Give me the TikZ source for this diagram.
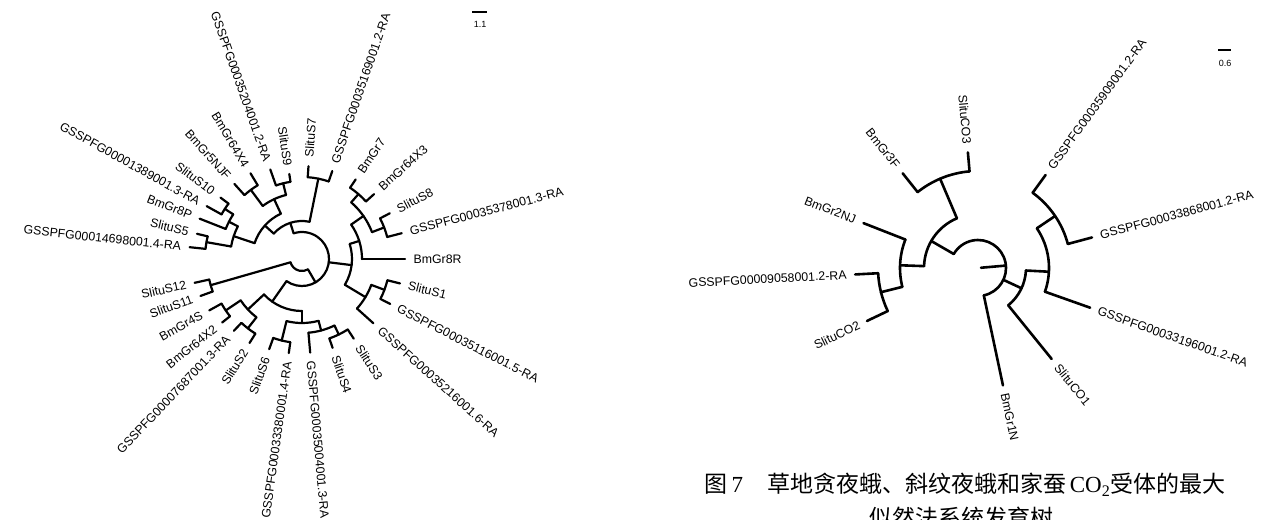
\documentclass[tikz,border=0pt]{standalone}
\usepackage{fontspec}
\setmainfont{Liberation Serif}
\newfontfamily\labfont{Liberation Sans}
\newfontfamily\cjkfont{Noto Sans CJK SC}
\usetikzlibrary{calc}
\def\labgap{8}
\newcommand{\brstem}[4]{\draw[br,shift={(#1)}] (#2:#3pt) -- (#2:#4pt);}
\newcommand{\brarc}[4]{\draw[br,shift={(#1)}] (#2:#4pt) arc[start angle=#2, end angle=#3, radius=#4pt];}
\newcommand{\lfR}[6]{\draw[br,shift={(#1)}] (#3:#4pt) -- (#3:#5pt);
  \pgfmathsetmacro{\myr}{#5+\labgap}
  \node[lab,rotate=#3,anchor=west] (#2) at ($(#1)+(#3:\myr pt)$) {#6};}
\newcommand{\lfL}[6]{\draw[br,shift={(#1)}] (#3:#4pt) -- (#3:#5pt);
  \pgfmathsetmacro{\myr}{#5+\labgap}\pgfmathsetmacro{\myrot}{#3-180}
  \node[lab,rotate=\myrot,anchor=east] (#2) at ($(#1)+(#3:\myr pt)$) {#6};}
\begin{document}
\begin{tikzpicture}[
  lab/.style={font=\labfont\fontsize{12.3}{13}\selectfont, inner sep=0.5pt},
  scl/.style={font=\labfont\fontsize{9}{10}\selectfont, inner sep=1pt}
]
\useasboundingbox (0,0) rectangle (1273pt,-519pt);
\clip (0,0) rectangle (1273pt,-519pt);
\coordinate (LC) at (302pt,-259pt);
\coordinate (RC) at (978pt,-268pt);

\begin{scope}[br/.style={line width=2.2pt,line cap=round,line join=round}]
\brarc{LC}{-125}{108}{27}
\brarc{LC}{196}{300}{12}
\brstem{LC}{300}{12}{27}
% right clade
\brstem{LC}{-7}{27}{50}
\brarc{LC}{-31}{17.5}{50}
\brstem{LC}{17.5}{50}{60}
\brarc{LC}{0}{35}{60}
\lfR{LC}{BmGrEightR}{0}{60}{103}{BmGr8R}
\brstem{LC}{35}{60}{75}
\brarc{LC}{21}{49}{75}
\brstem{LC}{49}{75}{86}
\brarc{LC}{42}{56}{86}
\lfR{LC}{BmGrSeven}{56}{86}{96}{BmGr7}
\lfR{LC}{BmGrSixFourXThree}{42}{86}{97}{BmGr64X3}
\brstem{LC}{21}{75}{88}
\brarc{LC}{14.5}{27.5}{88}
\lfR{LC}{SlituSEight}{27.5}{88}{99}{SlituS8}
\lfR{LC}{GssA}{14.5}{88}{103}{GSSPFG00035378001.3-RA}
\brstem{LC}{-31}{50}{74}
\brarc{LC}{-42}{-20.5}{74}
\lfR{LC}{GssB}{-42}{74}{96}{GSSPFG00035216001.6-RA}
\brstem{LC}{-20.5}{74}{88}
\brarc{LC}{-27}{-14}{88}
\lfR{LC}{GssC}{-27}{88}{99}{GSSPFG00035116001.5-RA}
\lfR{LC}{SlituSOne}{-14}{88}{101}{SlituS1}
% top
\brstem{LC}{108}{27}{38}
\brarc{LC}{78.5}{138}{38}
\brstem{LC}{78.5}{38}{82}
\brarc{LC}{71}{86}{82}
\lfR{LC}{SlituSSeven}{86}{82}{93}{SlituS7}
\lfR{LC}{GssD}{71}{82}{93}{GSSPFG00035169001.2-RA}
\brstem{LC}{138}{38}{50}
\brarc{LC}{115}{161.5}{50}
\brstem{LC}{115}{50}{66}
\brarc{LC}{104}{126.5}{66}
\brstem{LC}{104}{66}{78}
\brarc{LC}{98.5}{109.5}{78}
\lfL{LC}{SlituSNine}{98.5}{78}{86}{SlituS9}
\lfL{LC}{GssE}{109.5}{78}{95}{GSSPFG00035204001.2-RA}
\brstem{LC}{126.5}{66}{86}
\brarc{LC}{121}{132}{86}
\lfL{LC}{BmGrSixFourXFour}{121}{86}{100}{BmGr64X4}
\lfL{LC}{BmGrFiveNJF}{132}{86}{101}{BmGr5NJF}
\brstem{LC}{161.5}{50}{72}
\brarc{LC}{153}{170}{72}
\brstem{LC}{153}{72}{82}
\brarc{LC}{147}{158.5}{82}
\lfL{LC}{BmGrEightP}{158.5}{82}{110}{BmGr8P}
\brstem{LC}{147}{82}{92}
\brarc{LC}{143}{151}{92}
\lfL{LC}{SlituSTen}{143}{92}{102}{SlituS10}
\lfL{LC}{GssF}{151}{92}{109}{GSSPFG00001389001.3-RA}
\brstem{LC}{170}{72}{97}
\brarc{LC}{166.5}{174}{97}
\lfL{LC}{SlituSFive}{166.5}{97}{108}{SlituS5}
\lfL{LC}{GssG}{174}{97}{113}{GSSPFG00014698001.4-RA}
% SlituS12 clade
\brstem{LC}{196}{12}{95}
\brarc{LC}{192.5}{200}{95}
\lfL{LC}{SlituSTwelve}{192.5}{95}{110}{SlituS12}
\lfL{LC}{SlituSEleven}{200}{95}{108}{SlituS11}
% bottom
\brstem{LC}{235}{27}{52}
\brarc{LC}{223}{270}{52}
\brstem{LC}{223}{52}{74}
\brarc{LC}{214}{232}{74}
\brstem{LC}{214}{74}{92}
\brarc{LC}{209}{218.5}{92}
\lfL{LC}{BmGrFourS}{209}{92}{106}{BmGr4S}
\lfL{LC}{BmGrSixFourXTwo}{218.5}{92}{102}{BmGr64X2}
\brstem{LC}{232}{74}{88}
\brarc{LC}{226.5}{238}{88}
\lfL{LC}{GssH}{226.5}{88}{99}{GSSPFG00007687001.3-RA}
\lfL{LC}{SlituSTwo}{238}{88}{99}{SlituS2}
\brstem{LC}{270}{52}{64}
\brarc{LC}{256}{285}{64}
\brstem{LC}{256}{64}{84}
\brarc{LC}{250}{262}{84}
\lfL{LC}{SlituSSix}{250}{84}{96}{SlituS6}
\lfL{LC}{GssI}{262}{84}{95}{GSSPFG00033380001.4-RA}
\brstem{LC}{285}{64}{74}
\brarc{LC}{275}{296}{74}
\lfR{LC}{GssJ}{275}{74}{94}{GSSPFG00035004001.3-RA}
\brstem{LC}{296}{74}{84}
\brarc{LC}{289}{303}{84}
\lfR{LC}{SlituSFour}{289}{84}{94}{SlituS4}
\lfR{LC}{SlituSThree}{303}{84}{95}{SlituS3}
\end{scope}

\begin{scope}[br/.style={line width=2.6pt,line cap=round,line join=round}]
\brarc{RC}{-78}{150}{28}
\brstem{RC}{5}{3}{28}
\lfR{RC}{BmGrOneN}{-78}{28}{120}{BmGr1N}
\brstem{RC}{-25}{28}{48}
\brarc{RC}{-51}{-3}{48}
\lfR{RC}{SlituCOOne}{-51}{48}{117}{SlituCO1}
\brstem{RC}{-3}{48}{71}
\brarc{RC}{-19.5}{34}{71}
\lfR{RC}{GssK}{-19.5}{71}{119}{GSSPFG00033196001.2-RA}
\brstem{RC}{34}{71}{93}
\brarc{RC}{15}{54}{93}
\lfR{RC}{GssL}{15}{93}{118}{GSSPFG00033868001.2-RA}
\lfR{RC}{GssM}{54}{93}{115}{GSSPFG00035909001.2-RA}
\brstem{RC}{150}{28}{54}
\brarc{RC}{113}{178}{54}
\brstem{RC}{113}{54}{97}
\brarc{RC}{95}{128.5}{97}
\lfL{RC}{SlituCOThree}{95}{97}{116}{SlituCO3}
\lfL{RC}{BmGrThreeF}{128.5}{97}{121}{BmGr3F}
\brstem{RC}{178}{54}{78}
\brarc{RC}{158.6}{194}{78}
\lfL{RC}{BmGrTwoNJ}{158.6}{78}{123}{BmGr2NJ}
\brstem{RC}{194}{78}{100}
\brarc{RC}{183}{205.5}{100}
\lfL{RC}{GssN}{183}{100}{123}{GSSPFG00009058001.2-RA}
\lfL{RC}{SlituCOTwo}{205.5}{100}{123}{SlituCO2}
\end{scope}

% scale bars
\coordinate (sbLa) at (472pt,-12pt);
\coordinate (sbLb) at (487pt,-12pt);
\draw[line width=1.4pt] (sbLa) -- (sbLb);
\node[scl] (sbL) at (480pt,-24pt) {1.1};
\coordinate (sbRa) at (1218pt,-50pt);
\coordinate (sbRb) at (1231pt,-50pt);
\draw[line width=1.4pt] (sbRa) -- (sbRb);
\node[scl] (sbR) at (1225pt,-63pt) {0.6};

% caption
\node[inner sep=0pt] (capA) at (965pt,-485pt)
  {\cjkfont\fontsize{23}{25}\selectfont 图\,{\rmfamily 7}\hspace{24pt}草地贪夜蛾、斜纹夜蛾和家蚕\,{\rmfamily CO\textsubscript{2}}受体的最大};
\node[inner sep=0pt] (capB) at (961pt,-518pt)
  {\cjkfont\fontsize{23}{25}\selectfont 似然法系统发育树};
\end{tikzpicture}
\end{document}
